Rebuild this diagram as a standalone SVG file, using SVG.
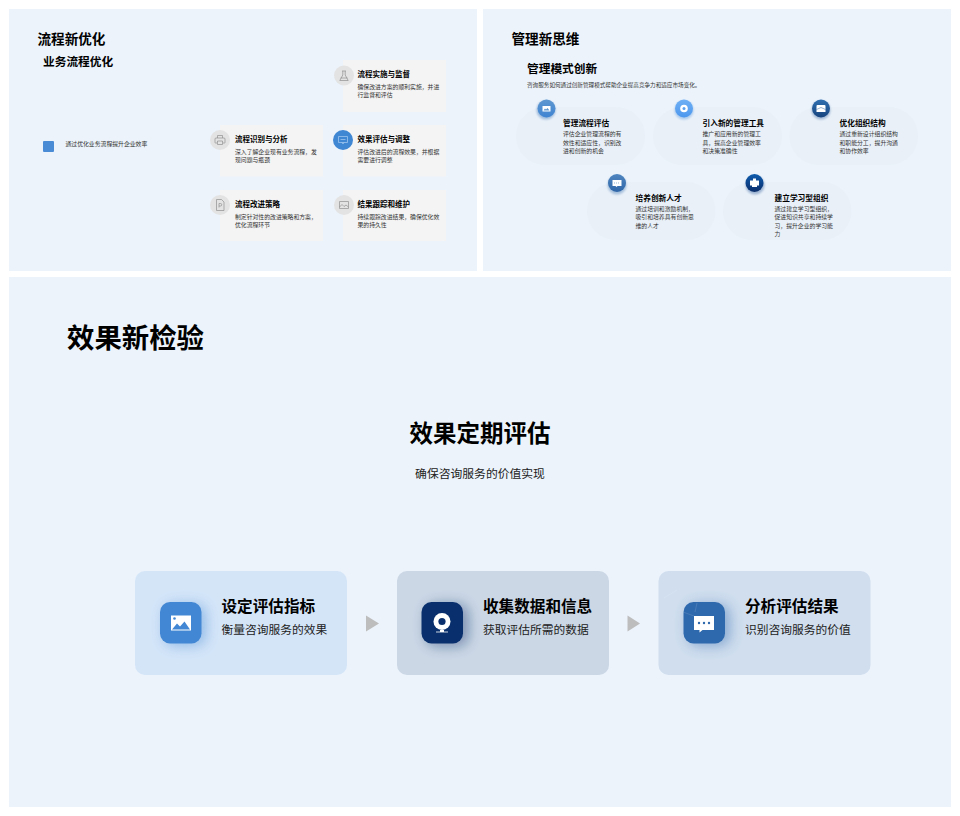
<svg xmlns="http://www.w3.org/2000/svg" width="960" height="816" viewBox="0 0 960 816">
<style>
text{font-family:"Noto Sans CJK SC","Noto Sans",sans-serif;fill:#000}
.b{font-weight:700}
.h1{font-size:13.6px;font-weight:700}
.h2{font-size:11.7px;font-weight:700}
.ct{font-size:7.5px;font-weight:700}
.cb{font-size:5.85px;fill:#333}
.bt{font-size:7.7px;font-weight:700}
.bb{font-size:5.85px;fill:#333}
.card{fill:#f4f4f4}
.ic{fill:#e3e3e3}
.ln{fill:none;stroke:#8f8f8f;stroke-width:.7}
.blob{fill:#e9f0f8}
.wt{fill:#fff}
.t3{font-size:15.6px;font-weight:700}
.s3{font-size:11.75px;fill:#222}
.arr{fill:#bdbdbd}
</style>
<defs>
<filter id="s" x="-80%" y="-80%" width="260%" height="260%"><feGaussianBlur stdDeviation="6.500"/></filter>
<filter id="s2" x="-60%" y="-60%" width="220%" height="220%"><feGaussianBlur stdDeviation="1.200"/></filter>
<linearGradient id="g1" x1="0" y1="0" x2="0" y2="1"><stop offset="0" stop-color="#5f97d0"/><stop offset="1" stop-color="#3f84d2"/></linearGradient>
<linearGradient id="g2" x1="0" y1="0" x2="0" y2="1"><stop offset="0" stop-color="#6fb0f5"/><stop offset="1" stop-color="#4c97ee"/></linearGradient>
<linearGradient id="g3" x1="0" y1="0" x2="0" y2="1"><stop offset="0" stop-color="#2f6fb0"/><stop offset="1" stop-color="#17447f"/></linearGradient>
<linearGradient id="g4" x1="0" y1="0" x2="0" y2="1"><stop offset="0" stop-color="#4f86c0"/><stop offset="1" stop-color="#2f66a8"/></linearGradient>
<linearGradient id="g5" x1="0" y1="0" x2="0" y2="1"><stop offset="0" stop-color="#0f5cae"/><stop offset="1" stop-color="#0a2e6b"/></linearGradient>
</defs>
<rect width="960" height="816" fill="#fff"/>
<rect x="9" y="9" width="468" height="262" fill="#ecf3fb"/>
<rect x="483" y="9" width="468" height="262" fill="#ecf3fb"/>
<rect x="9" y="277" width="942" height="530" fill="#ecf3fb"/>

<g id="panel1-head">
<text class="h1" x="37.500" y="44">流程新优化</text>
<text class="h2" x="43" y="66">业务流程优化</text>
<rect x="43" y="141" width="11" height="11" rx="1" fill="#4a8bd6"/>
<text class="cb" x="65.500" y="145.500">通过优化业务流程提升企业效率</text>
</g>

<g id="step-monitor">
<rect class="card" x="343" y="60" width="103" height="52"/>
<circle class="ic" cx="344" cy="75.500" r="10"/>
<path class="ln" d="M342 71h4M342.800 71v4l-3 5.500h8.400l-3-5.500v-4M340.500 78h7"/>
<text class="ct" x="357.500" y="77">流程实施与监督</text>
<text class="cb" x="357.500" y="89">确保改进方案的顺利实施，并进</text>
<text class="cb" x="357.500" y="97">行监督和评估</text>
</g>
<g id="step-identify">
<rect class="card" x="220" y="125" width="103" height="51.500"/>
<circle class="ic" cx="220" cy="140" r="10"/>
<path class="ln" d="M217.500 138v-2.500h5v2.500M217 143h-1.500a.5 .5 0 0 1-.5-.5v-3.500a1 1 0 0 1 1-1h8a1 1 0 0 1 1 1v3.500a.5 .5 0 0 1-.5 .5H223M217.500 141h5v3.500h-5z"/>
<text class="ct" x="235" y="141.500">流程识别与分析</text>
<text class="cb" x="235" y="153.500">深入了解企业现有业务流程，发</text>
<text class="cb" x="235" y="161.500">现问题与瓶颈</text>
</g>
<g id="step-evaluate">
<rect class="card" x="343" y="125" width="103" height="51.500"/>
<circle cx="343" cy="140" r="10" fill="#3f86d3"/>
<path d="M338.500 136.500h9v6h-9zM342 142.500l1 1.500 1-1.500M340.500 139.500h5" fill="none" stroke="#a9cdf0" stroke-width=".7"/>
<text class="ct" x="357.500" y="141.500">效果评估与调整</text>
<text class="cb" x="357.500" y="153.500">评估改进后的流程效果，并根据</text>
<text class="cb" x="357.500" y="161.500">需要进行调整</text>
</g>
<g id="step-strategy">
<rect class="card" x="220" y="190" width="103" height="51"/>
<circle class="ic" cx="220" cy="205" r="10"/>
<path class="ln" d="M216.500 199.500h5l2.500 2.500v8.500h-7.500zM219 207.500v-4h1.500a1 1 0 0 1 0 2.500H219"/>
<text class="ct" x="235" y="206.500">流程改进策略</text>
<text class="cb" x="235" y="218.500">制定针对性的改进策略和方案，</text>
<text class="cb" x="235" y="226.500">优化流程环节</text>
</g>
<g id="step-track">
<rect class="card" x="343" y="190" width="103" height="51"/>
<circle class="ic" cx="344" cy="205" r="10"/>
<path class="ln" d="M339.500 201.500h9v7h-9zM339.500 207l2.500-2.500 2 2 2-1.500 2.500 2"/>
<text class="ct" x="357.500" y="206.500">结果跟踪和维护</text>
<text class="cb" x="357.500" y="218.500">持续跟踪改进结果，确保优化效</text>
<text class="cb" x="357.500" y="226.500">果的持久性</text>
</g>

<g id="panel2-head">
<text class="h1" x="511.500" y="44">管理新思维</text>
<text class="h2" x="527" y="72.500">管理模式创新</text>
<text x="527" y="87" style="font-size:5.6px;fill:#333">咨询服务如何通过创新管理模式帮助企业提高竞争力和适应市场变化。</text>
</g>

<g id="mgmt-evaluate">
<rect class="blob" x="516" y="107" width="129" height="58" rx="29"/>
<circle cx="546" cy="110" r="9.500" fill="#9dbbdc" filter="url(#s2)"/>
<circle cx="546.500" cy="108.500" r="9" fill="url(#g1)"/>
<path class="wt" d="M542.500 106h8v5.500h-8z"/><path d="M543.500 110.500l1.500-2 1 1 1.500-1.500 2 2.500z" fill="#5f97d0"/>
<text class="bt" x="563" y="126">管理流程评估</text>
<text class="bb" x="563" y="136">评估企业管理流程的有</text>
<text class="bb" x="563" y="144.500">效性和适应性，识别改</text>
<text class="bb" x="563" y="153">进和创新的机会</text>
</g>
<g id="mgmt-tools">
<rect class="blob" x="653" y="107" width="129" height="58" rx="29"/>
<circle cx="684" cy="110" r="9.500" fill="#a9c9ec" filter="url(#s2)"/>
<circle cx="684" cy="108.500" r="9" fill="url(#g2)"/>
<circle cx="684" cy="108.500" r="3.800" class="wt"/><circle cx="684" cy="108.500" r="1.500" fill="#5aa0ef"/>
<text class="bt" x="702.500" y="126">引入新的管理工具</text>
<text class="bb" x="702.500" y="136">推广和应用新的管理工</text>
<text class="bb" x="702.500" y="144.500">具，提高企业管理效率</text>
<text class="bb" x="702.500" y="153">和决策准确性</text>
</g>
<g id="mgmt-structure">
<rect class="blob" x="789.500" y="107" width="128.500" height="58" rx="29"/>
<circle cx="821" cy="110" r="9.500" fill="#a0b8d4" filter="url(#s2)"/>
<circle cx="821" cy="108.500" r="9" fill="url(#g3)"/>
<path class="wt" d="M817.500 105h7a1 1 0 0 1 1 1v6h-9v-6a1 1 0 0 1 1-1z"/><path d="M816.500 109.500l4.500-2 4.500 2" fill="none" stroke="#2a62a0" stroke-width=".5"/>
<text class="bt" x="839.500" y="126">优化组织结构</text>
<text class="bb" x="839.500" y="136">通过重新设计组织结构</text>
<text class="bb" x="839.500" y="144.500">和职能分工，提升沟通</text>
<text class="bb" x="839.500" y="153">和协作效率</text>
</g>
<g id="mgmt-talent">
<rect class="blob" x="587" y="182" width="128.500" height="58" rx="29"/>
<circle cx="617" cy="185" r="9.500" fill="#a5bfdb" filter="url(#s2)"/>
<circle cx="617" cy="183" r="9" fill="url(#g4)"/>
<path class="wt" d="M612.500 180h9v6h-4l-1 1-1-1h-3z"/><path d="M614 183h6" stroke="#4f86c0" stroke-width=".6" stroke-dasharray="1 1"/>
<text class="bt" x="635.500" y="200.500">培养创新人才</text>
<text class="bb" x="635.500" y="210.500">通过培训和激励机制，</text>
<text class="bb" x="635.500" y="219">吸引和培养具有创新思</text>
<text class="bb" x="635.500" y="227.500">维的人才</text>
</g>
<g id="mgmt-learning">
<rect class="blob" x="723" y="182" width="128.500" height="58" rx="29"/>
<circle cx="755" cy="185" r="9.500" fill="#9db4d2" filter="url(#s2)"/>
<circle cx="754.500" cy="183" r="9" fill="url(#g5)"/>
<path class="wt" d="M753 178.500h3v2h3v5h-2v1.500h-5v-1.500h-2v-5h3z"/>
<text class="bt" x="774.500" y="200.500">建立学习型组织</text>
<text class="bb" x="774.500" y="210.500">通过建立学习型组织，</text>
<text class="bb" x="774.500" y="219">促进知识共享和持续学</text>
<text class="bb" x="774.500" y="227.500">习，提升企业的学习能</text>
<text class="bb" x="774.500" y="236">力</text>
</g>

<g id="panel3-head">
<text class="b" x="67" y="347.500" style="font-size:27.400px">效果新检验</text>
<text class="b" x="480" y="442" text-anchor="middle" style="font-size:23.500px">效果定期评估</text>
<text x="480" y="478" text-anchor="middle" style="font-size:11.800px;fill:#222">确保咨询服务的价值实现</text>
</g>

<g id="eval-indicators">
<rect x="135" y="571" width="212" height="104" rx="10" fill="#d4e5f8"/>
<rect x="164" y="604" width="42" height="42" rx="10" fill="#4287d3" opacity=".45" filter="url(#s)"/>
<rect x="160" y="602" width="41.500" height="41.500" rx="10" fill="#4287d3"/>
<path class="wt" d="M171 615.500h20v15h-20z"/>
<path d="M172 629.500l5-6 3 3 4.500-5 5.500 8z" fill="#4287d3"/>
<circle cx="174.500" cy="618.500" r="1.300" fill="#4287d3"/>
<text class="t3" x="221.500" y="612">设定评估指标</text>
<text class="s3" x="221.500" y="634">衡量咨询服务的效果</text>
</g>
<g id="eval-collect">
<rect x="397" y="571" width="212" height="104" rx="10" fill="#cbd7e5"/>
<rect x="426" y="604" width="42" height="42" rx="10" fill="#09306d" opacity=".45" filter="url(#s)"/>
<rect x="421.500" y="602" width="41.500" height="41.500" rx="10" fill="#09306d"/>
<circle cx="442" cy="621.500" r="8.500" class="wt"/>
<circle cx="442" cy="621.500" r="3.600" fill="#09306d"/>
<path d="M436 632h12" stroke="#fff" stroke-width=".8"/>
<path d="M440 630h4v2h-4z" class="wt"/>
<text class="t3" x="483" y="612">收集数据和信息</text>
<text class="s3" x="483" y="634">获取评估所需的数据</text>
</g>
<g id="eval-analyze">
<rect x="658.500" y="571" width="212" height="104" rx="10" fill="#d0deee"/>
<rect x="688" y="604" width="42" height="42" rx="10" fill="#2f69ad" opacity=".45" filter="url(#s)"/>
<rect x="683.500" y="602" width="41.500" height="41.500" rx="10" fill="#2f69ad"/>
<path d="M664 598l13-8M683 612l11 4M697 603l-2 9" fill="none" stroke="#fff" stroke-opacity=".2" stroke-width=".6"/>
<path class="wt" d="M694 616h20v14h-11.500l-3 2.500v-2.500h-5.500z"/>
<circle cx="699" cy="623" r="1.200" fill="#2f69ad"/><circle cx="704" cy="623" r="1.200" fill="#2f69ad"/><circle cx="709" cy="623" r="1.200" fill="#2f69ad"/>
<text class="t3" x="745" y="612">分析评估结果</text>
<text class="s3" x="745" y="634">识别咨询服务的价值</text>
</g>
<g id="connectors">
<path class="arr" d="M366 615.500l13 8-13 8z"/>
<path class="arr" d="M627.500 615.500l12.500 8-12.500 8z"/>
</g>
</svg>
